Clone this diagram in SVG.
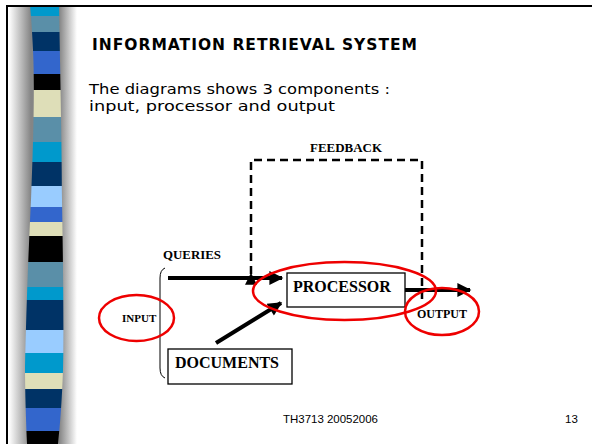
<svg xmlns="http://www.w3.org/2000/svg" width="592" height="444" viewBox="0 0 592 444">
  <defs>
    <style>
      .title { font-family: "DejaVu Sans", Verdana, sans-serif; font-weight: bold; font-size: 15.5px; fill: #000; }
      .body { font-family: "DejaVu Sans", Verdana, sans-serif; font-size: 14px; fill: #000; }
      .foot { font-family: "Liberation Sans", Arial, sans-serif; font-size: 11.5px; fill: #000; }
      .lbl { font-family: "Liberation Serif", "Times New Roman", serif; font-weight: bold; fill: #000; }
      .box { fill: #fff; stroke: #000; stroke-width: 1.3; }
      .flow { fill: none; stroke: #000; stroke-width: 4; }
      .fb { fill: none; stroke: #000; stroke-width: 2.5; stroke-dasharray: 8 5; }
      .ring { fill: none; stroke: #ee0000; stroke-width: 2.5; }
    </style>
    <marker id="bighead" viewBox="0 0 10 10" refX="9" refY="5" markerWidth="24" markerHeight="14" markerUnits="userSpaceOnUse" orient="auto">
      <path d="M0,0 L10,5 L0,10 z" fill="#000"/>
    </marker>
    <marker id="dhead" viewBox="0 0 10 10" refX="9" refY="5" markerWidth="14" markerHeight="12" markerUnits="userSpaceOnUse" orient="auto">
      <path d="M0,0 L10,5 L0,10 z" fill="#000"/>
    </marker>
    <linearGradient id="band" gradientUnits="userSpaceOnUse" x1="9" y1="0" x2="77" y2="0">
      <stop offset="0" stop-color="#ffffff"/>
      <stop offset="0.32" stop-color="#858585"/>
      <stop offset="0.74" stop-color="#858585"/>
      <stop offset="1" stop-color="#ffffff"/>
    </linearGradient>
    <clipPath id="column">
      <path d="M30,5 L59,5 C60,60 62,150 62,200 C63,260 64,330 63,370 C62,400 60,425 58,444 L27,444 C26,420 25,390 25,367 C26,320 28,260 31,200 C33,150 35,90 33,50 C32,30 31,15 30,5 z"/>
    </clipPath>
  </defs>

  <rect width="592" height="444" fill="#fff"/>

  <!-- slide frame: shaded band with striped column -->
  <rect x="9" y="7" width="68" height="437" fill="url(#band)"/>
  <g clip-path="url(#column)">
    <rect x="20" y="5" width="50" height="11" fill="#0099cc"/>
    <rect x="20" y="16" width="50" height="16" fill="#5a8fa8"/>
    <rect x="20" y="32" width="50" height="19" fill="#003366"/>
    <rect x="20" y="51" width="50" height="23" fill="#3366cc"/>
    <rect x="20" y="74" width="50" height="16" fill="#000000"/>
    <rect x="20" y="90" width="50" height="27" fill="#dedeb8"/>
    <rect x="20" y="117" width="50" height="25" fill="#5a8fa8"/>
    <rect x="20" y="142" width="50" height="20" fill="#0099cc"/>
    <rect x="20" y="162" width="50" height="24" fill="#003366"/>
    <rect x="20" y="186" width="50" height="21" fill="#99ccff"/>
    <rect x="20" y="207" width="50" height="15" fill="#3366cc"/>
    <rect x="20" y="222" width="50" height="14" fill="#dedeb8"/>
    <rect x="20" y="236" width="50" height="26" fill="#000000"/>
    <rect x="20" y="262" width="50" height="25" fill="#5a8fa8"/>
    <rect x="20" y="287" width="50" height="13" fill="#0099cc"/>
    <rect x="20" y="300" width="50" height="30" fill="#003366"/>
    <rect x="20" y="330" width="50" height="23" fill="#99ccff"/>
    <rect x="20" y="353" width="50" height="20" fill="#0099cc"/>
    <rect x="20" y="373" width="50" height="16" fill="#dedeb8"/>
    <rect x="20" y="389" width="50" height="19" fill="#003366"/>
    <rect x="20" y="408" width="50" height="23" fill="#3366cc"/>
    <rect x="20" y="431" width="50" height="13" fill="#000000"/>
  </g>
  <path d="M7,444 L7,6 L592,6" fill="none" stroke="#000" stroke-width="2"/>

  <!-- slide text -->
  <text class="title" x="92" y="50" textLength="325" lengthAdjust="spacing">INFORMATION RETRIEVAL SYSTEM</text>
  <text class="body" x="89" y="94" textLength="301" lengthAdjust="spacingAndGlyphs">The diagrams shows 3 components :</text>
  <text class="body" x="89" y="111" textLength="246" lengthAdjust="spacingAndGlyphs">input, processor and output</text>
  <text class="foot" x="283" y="423" textLength="95" lengthAdjust="spacingAndGlyphs">TH3713 20052006</text>
  <text class="foot" x="565" y="423">13</text>

  <!-- connectors -->
  <g id="connectors">
    <path class="fb" d="M251,274 L251,160 L422,160 L422,300" marker-start="url(#dhead)"/>
    <line class="flow" x1="168" y1="278" x2="282" y2="278" marker-end="url(#bighead)"/>
    <line class="flow" x1="216" y1="343" x2="281" y2="303" marker-end="url(#bighead)"/>
    <line class="flow" x1="405" y1="290" x2="470" y2="290" marker-end="url(#bighead)"/>
  </g>

  <g id="feedback-label">
    <text class="lbl" x="310" y="152" font-size="12.5" textLength="72" lengthAdjust="spacingAndGlyphs">FEEDBACK</text>
  </g>

  <g id="queries">
    <text class="lbl" x="163" y="259" font-size="12.5" textLength="58" lengthAdjust="spacingAndGlyphs">QUERIES</text>
  </g>

  <g id="input-brace">
    <path d="M165,268 Q160,270 160,278 L160,368 Q160,376 165,378" fill="none" stroke="#000" stroke-width="1"/>
  </g>

  <g id="processor">
    <rect class="box" x="287" y="273" width="118" height="34"/>
    <text class="lbl" x="293" y="292" font-size="16">PROCESSOR</text>
  </g>

  <g id="documents">
    <rect class="box" x="168" y="349" width="124" height="35"/>
    <text class="lbl" x="175" y="368" font-size="16">DOCUMENTS</text>
  </g>

  <g id="input">
    <text class="lbl" x="122" y="322" font-size="11">INPUT</text>
    <ellipse class="ring" cx="136.5" cy="318" rx="37.5" ry="23"/>
  </g>

  <g id="output">
    <text class="lbl" x="417" y="318" font-size="12">OUTPUT</text>
    <ellipse class="ring" cx="442" cy="311.5" rx="37" ry="23.5"/>
  </g>

  <g id="processor-ring">
    <ellipse class="ring" cx="344.5" cy="291" rx="91.5" ry="29"/>
  </g>
</svg>
